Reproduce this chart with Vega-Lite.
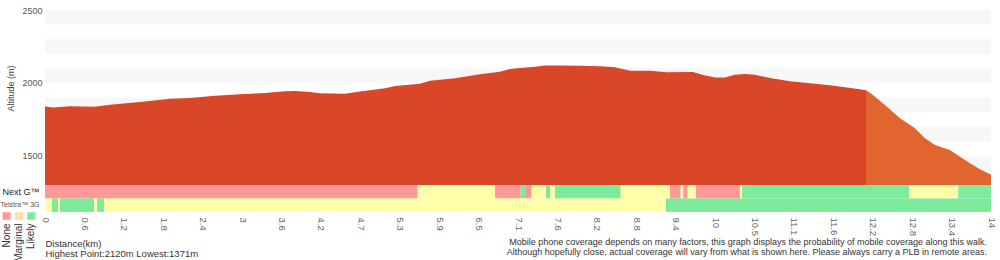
{
  "$schema": "https://vega.github.io/schema/vega-lite/v6.json",
  "padding": {"left": 0, "top": 6, "right": 5, "bottom": 0},
  "config": {"view": {"stroke": null}, "font": "Liberation Sans"},
  "datasets": {
    "stripes": [
      {"lo": 2400, "hi": 2500}, {"lo": 2200, "hi": 2300}, {"lo": 2000, "hi": 2100},
      {"lo": 1800, "hi": 1900}, {"lo": 1600, "hi": 1700}, {"lo": 1400, "hi": 1500}
    ],
    "profile": [
      {"d": 0, "elev": 1838, "seg": "main"}, {"d": 0.118, "elev": 1831, "seg": "main"},
      {"d": 0.37, "elev": 1840, "seg": "main"}, {"d": 0.74, "elev": 1837, "seg": "main"},
      {"d": 0.962, "elev": 1851, "seg": "main"}, {"d": 1.406, "elev": 1869, "seg": "main"},
      {"d": 1.85, "elev": 1892, "seg": "main"}, {"d": 2.146, "elev": 1897, "seg": "main"},
      {"d": 2.516, "elev": 1912, "seg": "main"}, {"d": 2.886, "elev": 1922, "seg": "main"},
      {"d": 3.256, "elev": 1931, "seg": "main"}, {"d": 3.552, "elev": 1943, "seg": "main"},
      {"d": 3.7, "elev": 1945, "seg": "main"}, {"d": 3.922, "elev": 1938, "seg": "main"},
      {"d": 4.07, "elev": 1929, "seg": "main"}, {"d": 4.44, "elev": 1926, "seg": "main"},
      {"d": 4.662, "elev": 1941, "seg": "main"}, {"d": 5.032, "elev": 1963, "seg": "main"},
      {"d": 5.18, "elev": 1979, "seg": "main"}, {"d": 5.55, "elev": 1995, "seg": "main"},
      {"d": 5.698, "elev": 2015, "seg": "main"}, {"d": 6.068, "elev": 2032, "seg": "main"},
      {"d": 6.438, "elev": 2059, "seg": "main"}, {"d": 6.734, "elev": 2077, "seg": "main"},
      {"d": 6.882, "elev": 2095, "seg": "main"}, {"d": 6.986, "elev": 2100, "seg": "main"},
      {"d": 7.252, "elev": 2111, "seg": "main"}, {"d": 7.4, "elev": 2120, "seg": "main"},
      {"d": 7.622, "elev": 2120, "seg": "main"}, {"d": 7.918, "elev": 2118, "seg": "main"},
      {"d": 8.214, "elev": 2114, "seg": "main"}, {"d": 8.436, "elev": 2107, "seg": "main"},
      {"d": 8.658, "elev": 2084, "seg": "main"}, {"d": 8.953, "elev": 2084, "seg": "main"},
      {"d": 9.205, "elev": 2073, "seg": "main"}, {"d": 9.59, "elev": 2075, "seg": "main"},
      {"d": 9.738, "elev": 2054, "seg": "main"}, {"d": 9.915, "elev": 2038, "seg": "main"},
      {"d": 10.063, "elev": 2038, "seg": "main"}, {"d": 10.211, "elev": 2056, "seg": "main"},
      {"d": 10.359, "elev": 2061, "seg": "main"}, {"d": 10.507, "elev": 2056, "seg": "main"},
      {"d": 10.729, "elev": 2034, "seg": "main"}, {"d": 11.025, "elev": 2011, "seg": "main"},
      {"d": 11.321, "elev": 1997, "seg": "main"}, {"d": 11.617, "elev": 1984, "seg": "main"},
      {"d": 11.839, "elev": 1970, "seg": "main"}, {"d": 12.061, "elev": 1956, "seg": "main"},
      {"d": 12.15, "elev": 1949, "seg": "main"},
      {"d": 12.15, "elev": 1949, "seg": "descent"}, {"d": 12.209, "elev": 1933, "seg": "descent"},
      {"d": 12.283, "elev": 1905, "seg": "descent"}, {"d": 12.431, "elev": 1849, "seg": "descent"},
      {"d": 12.653, "elev": 1757, "seg": "descent"}, {"d": 12.875, "elev": 1689, "seg": "descent"},
      {"d": 13.023, "elev": 1620, "seg": "descent"}, {"d": 13.171, "elev": 1574, "seg": "descent"},
      {"d": 13.393, "elev": 1540, "seg": "descent"}, {"d": 13.541, "elev": 1494, "seg": "descent"},
      {"d": 13.689, "elev": 1449, "seg": "descent"}, {"d": 13.837, "elev": 1408, "seg": "descent"},
      {"d": 14.0, "elev": 1371, "seg": "descent"}
    ],
    "coverage": [
      {"network": "Next G™", "start": 0, "end": 5.516, "level": "None"},
      {"network": "Next G™", "start": 5.516, "end": 6.66, "level": "Marginal"},
      {"network": "Next G™", "start": 6.66, "end": 7.04, "level": "None"},
      {"network": "Next G™", "start": 7.04, "end": 7.118, "level": "Likely"},
      {"network": "Next G™", "start": 7.118, "end": 7.203, "level": "None"},
      {"network": "Next G™", "start": 7.203, "end": 7.414, "level": "Marginal"},
      {"network": "Next G™", "start": 7.414, "end": 7.474, "level": "Likely"},
      {"network": "Next G™", "start": 7.474, "end": 7.548, "level": "Marginal"},
      {"network": "Next G™", "start": 7.548, "end": 8.52, "level": "Likely"},
      {"network": "Next G™", "start": 8.52, "end": 9.249, "level": "Marginal"},
      {"network": "Next G™", "start": 9.249, "end": 9.408, "level": "None"},
      {"network": "Next G™", "start": 9.408, "end": 9.446, "level": "Marginal"},
      {"network": "Next G™", "start": 9.446, "end": 9.511, "level": "None"},
      {"network": "Next G™", "start": 9.511, "end": 9.634, "level": "Marginal"},
      {"network": "Next G™", "start": 9.634, "end": 10.285, "level": "None"},
      {"network": "Next G™", "start": 10.285, "end": 10.315, "level": "Marginal"},
      {"network": "Next G™", "start": 10.315, "end": 12.786, "level": "Likely"},
      {"network": "Next G™", "start": 12.786, "end": 13.516, "level": "Marginal"},
      {"network": "Next G™", "start": 13.516, "end": 14.0, "level": "Likely"},
      {"network": "Telstra™ 3G", "start": 0, "end": 0.104, "level": "Marginal"},
      {"network": "Telstra™ 3G", "start": 0.104, "end": 0.192, "level": "Likely"},
      {"network": "Telstra™ 3G", "start": 0.192, "end": 0.222, "level": "Marginal"},
      {"network": "Telstra™ 3G", "start": 0.222, "end": 0.725, "level": "Likely"},
      {"network": "Telstra™ 3G", "start": 0.725, "end": 0.77, "level": "Marginal"},
      {"network": "Telstra™ 3G", "start": 0.77, "end": 0.873, "level": "Likely"},
      {"network": "Telstra™ 3G", "start": 0.873, "end": 9.19, "level": "Marginal"},
      {"network": "Telstra™ 3G", "start": 9.19, "end": 14.0, "level": "Likely"}
    ],
    "legend": [
      {"level": "None"}, {"level": "Marginal"}, {"level": "Likely"}
    ]
  },
  "columns": 2,
  "align": "each",
  "bounds": "flush",
  "spacing": {"row": 0, "column": 8},
  "resolve": {"scale": {"x": "independent", "y": "independent", "color": "independent"}},
  "concat": [
    {"width": 36, "height": 1, "data": {"values": []}, "mark": "point"},
    {
      "width": 946,
      "height": 175,
      "layer": [
        {
          "data": {"name": "stripes"},
          "mark": {"type": "rect", "color": "#f7f7f7"},
          "encoding": {
            "y": {
              "field": "lo", "type": "quantitative",
              "scale": {"domain": [1300, 2500], "nice": false, "zero": false},
              "axis": {
                "values": [1500, 2000, 2500], "format": "d", "title": "Altitude (m)", "ticks": false, "domain": false, "grid": false,
                "labelFontSize": 9, "labelColor": "#555", "labelPadding": 3,
                "titleFontSize": 9, "titleFontWeight": "normal", "titleColor": "#444", "titlePadding": 6, "titleY": 78
              }
            },
            "y2": {"field": "hi"}
          }
        },
        {
          "data": {"name": "profile"},
          "mark": {"type": "area", "interpolate": "linear"},
          "encoding": {
            "x": {"field": "d", "type": "quantitative", "scale": {"domain": [0, 14], "nice": false, "zero": false}, "axis": null},
            "y": {"field": "elev", "type": "quantitative", "stack": null},
            "color": {"field": "seg", "type": "nominal", "scale": {"domain": ["main", "descent"], "range": ["#d94628", "#e0652f"]}, "legend": null}
          }
        }
      ]
    },
    {"width": 36, "height": 1, "data": {"values": []}, "mark": "point"},
    {
      "width": 946,
      "height": 27,
      "data": {"name": "coverage"},
      "mark": "rect",
      "title": {
        "text": [
          "Mobile phone coverage depends on many factors, this graph displays the probability of mobile coverage along this walk.",
          "Although hopefully close, actual coverage will vary from what is shown here. Please always carry a PLB in remote areas."
        ],
        "orient": "bottom", "anchor": "end", "frame": "group", "offset": -20, "dx": -4,
        "fontSize": 9, "fontWeight": "normal", "color": "#333", "lineHeight": 10, "baseline": "top"
      },
      "encoding": {
        "x": {
          "field": "start", "type": "quantitative",
          "scale": {"domain": [0, 14], "nice": false, "zero": false},
          "axis": {
            "values": [0, 0.5833, 1.1667, 1.75, 2.3333, 2.9167, 3.5, 4.0833, 4.6667, 5.25, 5.8333, 6.4167, 7, 7.5833, 8.1667, 8.75, 9.3333, 9.9167, 10.5, 11.0833, 11.6667, 12.25, 12.8333, 13.4167, 14],
            "labelExpr": "['0','0.6','1.2','1.8','2.4','3','3.6','4.2','4.7','5.3','5.9','6.5','7.1','7.6','8.2','8.8','9.4','10','10.5','11.1','11.6','12.2','12.8','13.4','14'][round(datum.value*24/14)]",
            "labelAngle": 90, "labelAlign": "left", "labelBaseline": "middle", "labelFlush": false, "labelOverlap": false,
            "labelFontSize": 9.5, "labelColor": "#666", "labelPadding": 5,
            "ticks": false, "domain": false, "grid": false,
            "title": ["Distance(km)", "Highest Point:2120m Lowest:1371m"],
            "titleAnchor": "start", "titleAlign": "left", "titleBaseline": "top", "titlePadding": 3,
            "titleFontSize": 9.5, "titleFontWeight": "normal", "titleColor": "#333", "titleLineHeight": 10
          }
        },
        "x2": {"field": "end"},
        "y": {
          "field": "network", "type": "nominal", "sort": ["Next G™", "Telstra™ 3G"],
          "scale": {"paddingInner": 0, "paddingOuter": 0},
          "axis": {
            "title": null, "ticks": false, "domain": false, "labelPadding": 6,
            "labelFontSize": {"condition": {"test": "datum.value == 'Next G™'", "value": 9}, "value": 7},
            "labelColor": {"condition": {"test": "datum.value == 'Next G™'", "value": "#222"}, "value": "#555"}
          }
        },
        "color": {"field": "level", "type": "nominal", "scale": {"domain": ["None", "Marginal", "Likely"], "range": ["#ff9999", "#ffffaa", "#7deb9b"]}, "legend": null}
      }
    },
    {
      "width": 36,
      "height": 8,
      "data": {"name": "legend"},
      "mark": {"type": "rect", "stroke": "#ffffff", "strokeOpacity": 0.5, "strokeWidth": 1},
      "encoding": {
        "x": {
          "field": "level", "type": "nominal", "sort": ["None", "Marginal", "Likely"],
          "scale": {"paddingInner": 0.3, "paddingOuter": 0.1},
          "axis": {"title": null, "labelAngle": -90, "labelAlign": "right", "labelBaseline": "middle", "ticks": false, "domain": false, "labelPadding": 3, "labelFontSize": 10, "labelColor": "#333"}
        },
        "color": {"field": "level", "type": "nominal", "scale": {"domain": ["None", "Marginal", "Likely"], "range": ["#ff9999", "#ffdfa6", "#7deb9b"]}, "legend": null}
      }
    }
  ]
}
